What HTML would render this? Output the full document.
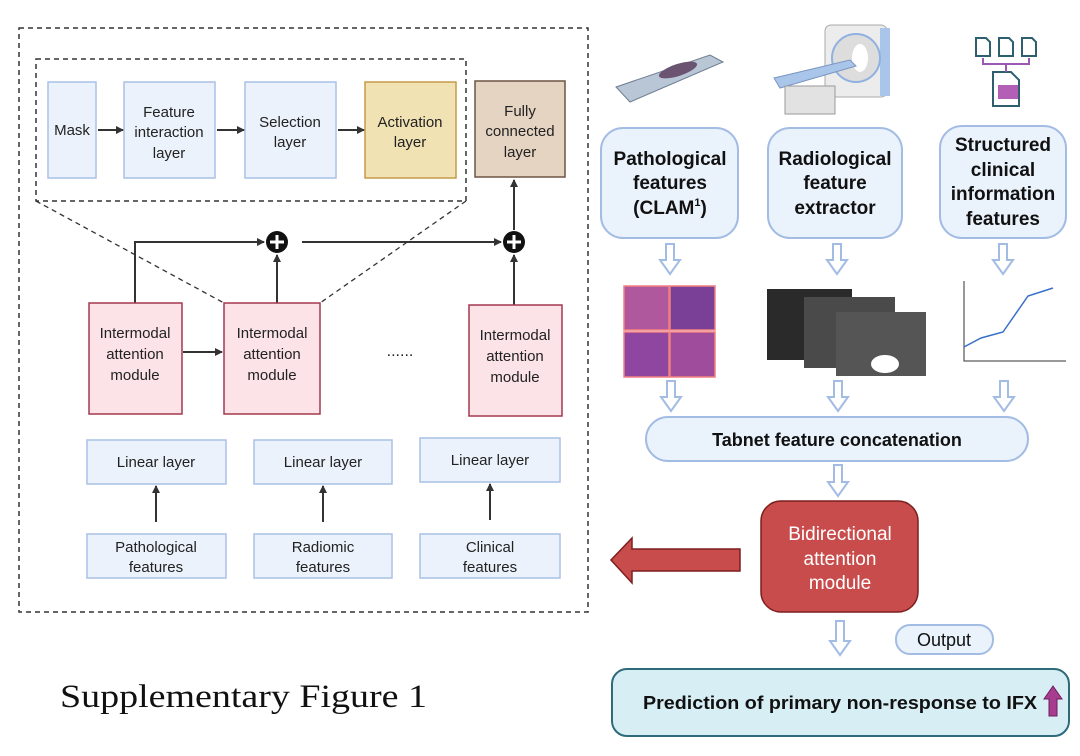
<!DOCTYPE html>
<html><head><meta charset="utf-8"><style>
html,body{margin:0;padding:0;background:#fff;}
svg{display:block;}
.s{font-family:"Liberation Sans",sans-serif;}
</style></head><body>
<svg width="1080" height="756" viewBox="0 0 1080 756" xmlns="http://www.w3.org/2000/svg" class="s" font-family="Liberation Sans, sans-serif">
<defs>
<marker id="ah" markerWidth="8" markerHeight="8" refX="7" refY="4" orient="auto" markerUnits="userSpaceOnUse"><path d="M0,0 L8,4 L0,8 z" fill="#333"/></marker>
</defs>
<rect x="19" y="28" width="569" height="584" fill="none" stroke="#333" stroke-width="1.5" stroke-dasharray="5,4"/>
<rect x="36" y="59" width="430" height="142" fill="none" stroke="#333" stroke-width="1.5" stroke-dasharray="5,4"/>
<line x1="36" y1="201" x2="224" y2="303" stroke="#333" stroke-width="1.3" stroke-dasharray="5,4"/>
<line x1="466" y1="201" x2="320" y2="303" stroke="#333" stroke-width="1.3" stroke-dasharray="5,4"/>
<g font-size="15" text-anchor="middle" fill="#222">
<rect x="48" y="82" width="48" height="96" fill="#ebf2fb" stroke="#a9c1e6" stroke-width="1.5"/>
<text x="72" y="135">Mask</text>
<rect x="124" y="82" width="91" height="96" fill="#ebf2fb" stroke="#a9c1e6" stroke-width="1.5"/>
<text x="169" y="117">Feature</text><text x="169" y="137">interaction</text><text x="169" y="158">layer</text>
<rect x="245" y="82" width="91" height="96" fill="#ebf2fb" stroke="#a9c1e6" stroke-width="1.5"/>
<text x="290" y="127">Selection</text><text x="290" y="147">layer</text>
<rect x="365" y="82" width="91" height="96" fill="#f1e2b3" stroke="#c59a4a" stroke-width="1.5"/>
<text x="410" y="127">Activation</text><text x="410" y="147">layer</text>
<rect x="475" y="81" width="90" height="96" fill="#e6d4c3" stroke="#6f5545" stroke-width="1.5"/>
<text x="520" y="116">Fully</text><text x="520" y="136">connected</text><text x="520" y="157">layer</text>
</g>
<g stroke="#333" stroke-width="2" fill="none">
<line x1="98" y1="130" x2="123" y2="130" marker-end="url(#ah)"/>
<line x1="217" y1="130" x2="244" y2="130" marker-end="url(#ah)"/>
<line x1="338" y1="130" x2="364" y2="130" marker-end="url(#ah)"/>
<line x1="514" y1="230" x2="514" y2="180" marker-end="url(#ah)"/>
<polyline points="135,303 135,242 264,242" marker-end="url(#ah)"/>
<line x1="277" y1="303" x2="277" y2="255" marker-end="url(#ah)"/>
<line x1="302" y1="242" x2="501" y2="242" marker-end="url(#ah)"/>
<line x1="514" y1="305" x2="514" y2="255" marker-end="url(#ah)"/>
<line x1="183" y1="352" x2="222" y2="352" marker-end="url(#ah)"/>
<line x1="156" y1="522" x2="156" y2="486" marker-end="url(#ah)"/>
<line x1="323" y1="522" x2="323" y2="486" marker-end="url(#ah)"/>
<line x1="490" y1="520" x2="490" y2="484" marker-end="url(#ah)"/>
</g>
<g>
<circle cx="277" cy="242" r="11" fill="#111"/><path d="M277,235 v14 M270,242 h14" stroke="#fff" stroke-width="3"/>
<circle cx="514" cy="242" r="11" fill="#111"/><path d="M514,235 v14 M507,242 h14" stroke="#fff" stroke-width="3"/>
</g>
<g font-size="15" text-anchor="middle" fill="#222">
<rect x="89" y="303" width="93" height="111" fill="#fbe3e8" stroke="#a3384f" stroke-width="1.5"/>
<text x="135" y="338">Intermodal</text><text x="135" y="359">attention</text><text x="135" y="380">module</text>
<rect x="224" y="303" width="96" height="111" fill="#fbe3e8" stroke="#a3384f" stroke-width="1.5"/>
<text x="272" y="338">Intermodal</text><text x="272" y="359">attention</text><text x="272" y="380">module</text>
<rect x="469" y="305" width="93" height="111" fill="#fbe3e8" stroke="#a3384f" stroke-width="1.5"/>
<text x="515" y="340">Intermodal</text><text x="515" y="361">attention</text><text x="515" y="382">module</text>
<text x="400" y="356" font-size="16">......</text>
<rect x="87" y="440" width="139" height="44" fill="#ebf2fb" stroke="#a9c1e6" stroke-width="1.5"/>
<text x="156" y="467">Linear layer</text>
<rect x="254" y="440" width="138" height="44" fill="#ebf2fb" stroke="#a9c1e6" stroke-width="1.5"/>
<text x="323" y="467">Linear layer</text>
<rect x="420" y="438" width="140" height="44" fill="#ebf2fb" stroke="#a9c1e6" stroke-width="1.5"/>
<text x="490" y="465">Linear layer</text>
<rect x="87" y="534" width="139" height="44" fill="#ebf2fb" stroke="#a9c1e6" stroke-width="1.5"/>
<text x="156" y="552">Pathological</text><text x="156" y="572">features</text>
<rect x="254" y="534" width="138" height="44" fill="#ebf2fb" stroke="#a9c1e6" stroke-width="1.5"/>
<text x="323" y="552">Radiomic</text><text x="323" y="572">features</text>
<rect x="420" y="534" width="140" height="44" fill="#ebf2fb" stroke="#a9c1e6" stroke-width="1.5"/>
<text x="490" y="552">Clinical</text><text x="490" y="572">features</text>
</g>
<text x="60" y="707" style="font-family:'Liberation Serif',serif" font-size="33" fill="#111" textLength="367" lengthAdjust="spacingAndGlyphs">Supplementary Figure 1</text>

<polygon points="616,87 710,55 723,62 630,102" fill="#b8c6d6" stroke="#6c7d90"/>
<ellipse cx="678" cy="70" rx="20" ry="6" fill="#6b5372" transform="rotate(-18 678 70)"/>
<g>
<rect x="825" y="25" width="62" height="72" rx="6" fill="#ececec" stroke="#aaa"/>
<rect x="880" y="28" width="10" height="68" fill="#a9c5ea"/>
<circle cx="856" cy="58" r="24" fill="#ddd" stroke="#8fb0e0" stroke-width="2"/>
<ellipse cx="860" cy="58" rx="8" ry="14" fill="#fff"/>
<polygon points="774,78 850,60 856,66 780,88" fill="#a9c5ea" stroke="#7895c0"/>
<rect x="785" y="86" width="50" height="28" fill="#e2e2e2" stroke="#999"/>
</g>
<g fill="none" stroke="#2d5f6e" stroke-width="2">
<path d="M976,38 h10 l4,4 v14 h-14z M999,38 h10 l4,4 v14 h-14z M1022,38 h10 l4,4 v14 h-14z"/>
<path d="M993,72 h18 l8,8 v26 h-26z"/>
</g>
<path d="M983,58 v6 h46 v-6 M1006,64 v8" stroke="#9b59b6" stroke-width="2" fill="none"/>
<rect x="998" y="85" width="20" height="14" fill="#b35fb5"/>
<g font-size="19" font-weight="bold" text-anchor="middle" fill="#111">
<rect x="601" y="128" width="137" height="110" rx="22" fill="#eaf2fc" stroke="#a3bce3" stroke-width="2"/>
<text x="670" y="165">Pathological</text><text x="670" y="189">features</text><text x="670" y="214">(CLAM<tspan font-size="11" dy="-8">1</tspan><tspan dy="8">)</tspan></text>
<rect x="768" y="128" width="134" height="110" rx="22" fill="#eaf2fc" stroke="#a3bce3" stroke-width="2"/>
<text x="835" y="165">Radiological</text><text x="835" y="189">feature</text><text x="835" y="214">extractor</text>
<rect x="940" y="126" width="126" height="112" rx="22" fill="#eaf2fc" stroke="#a3bce3" stroke-width="2"/>
<text x="1003" y="151">Structured</text><text x="1003" y="176">clinical</text><text x="1003" y="200">information</text><text x="1003" y="225">features</text>
</g>
<g fill="#fff" stroke="#a3bce3" stroke-width="2">
<path d="M666,244 h8 v16 h6 l-10,14 l-10,-14 h6z"/>
<path d="M833,244 h8 v16 h6 l-10,14 l-10,-14 h6z"/>
<path d="M999,244 h8 v16 h6 l-10,14 l-10,-14 h6z"/>
<path d="M667,381 h8 v16 h6 l-10,14 l-10,-14 h6z"/>
<path d="M834,381 h8 v16 h6 l-10,14 l-10,-14 h6z"/>
<path d="M1000,381 h8 v16 h6 l-10,14 l-10,-14 h6z"/>
<path d="M834,465 h8 v17 h6 l-10,14 l-10,-14 h6z"/>
<path d="M836,621 h8 v20 h6 l-10,14 l-10,-14 h6z"/>
</g>
<g stroke="#f08080" stroke-width="1.5">
<rect x="624" y="286" width="45" height="44" fill="#b0589e"/>
<rect x="670" y="286" width="45" height="44" fill="#7a3f96"/>
<rect x="624" y="332" width="45" height="45" fill="#8e46a0"/>
<rect x="670" y="332" width="45" height="45" fill="#a04c9c"/>
</g>
<rect x="767" y="289" width="85" height="71" fill="#2a2a2a"/>
<rect x="804" y="297" width="91" height="71" fill="#4a4a4a"/>
<rect x="836" y="312" width="90" height="64" fill="#555"/>
<ellipse cx="885" cy="364" rx="14" ry="9" fill="#fff"/>
<path d="M964,281 v80 h102" stroke="#333" stroke-width="1" fill="none"/>
<polyline points="964,347 981,338 1003,332 1028,296 1053,288" stroke="#3a6fc8" stroke-width="1.5" fill="none"/>
<rect x="646" y="417" width="382" height="44" rx="22" fill="#eaf2fc" stroke="#a3bce3" stroke-width="2"/>
<text x="837" y="446" font-size="18" font-weight="bold" text-anchor="middle" fill="#111">Tabnet feature concatenation</text>
<rect x="761" y="501" width="157" height="111" rx="20" fill="#c94c4c" stroke="#7d1f1f" stroke-width="1.5"/>
<g font-size="19" text-anchor="middle" fill="#fff">
<text x="840" y="540">Bidirectional</text><text x="840" y="565">attention</text><text x="840" y="589">module</text>
</g>
<polygon points="740,549 740,571 632,571 632,583 611,560 632,538 632,549" fill="#c94c4c" stroke="#7d1f1f" stroke-width="1.5"/>
<rect x="896" y="625" width="97" height="29" rx="14" fill="#eaf2fc" stroke="#a3bce3" stroke-width="2"/>
<text x="944" y="646" font-size="18" text-anchor="middle" fill="#111">Output</text>
<rect x="612" y="669" width="457" height="67" rx="15" fill="#d8eef5" stroke="#2d6a7a" stroke-width="2"/>
<text x="643" y="709" font-size="18" font-weight="bold" fill="#111" textLength="394" lengthAdjust="spacingAndGlyphs">Prediction of primary non-response to IFX</text>
<polygon points="1053,686 1062,699 1057,699 1057,716 1049,716 1049,699 1044,699" fill="#a83c8f" stroke="#6e1d5d"/>
</svg>
</body></html>
